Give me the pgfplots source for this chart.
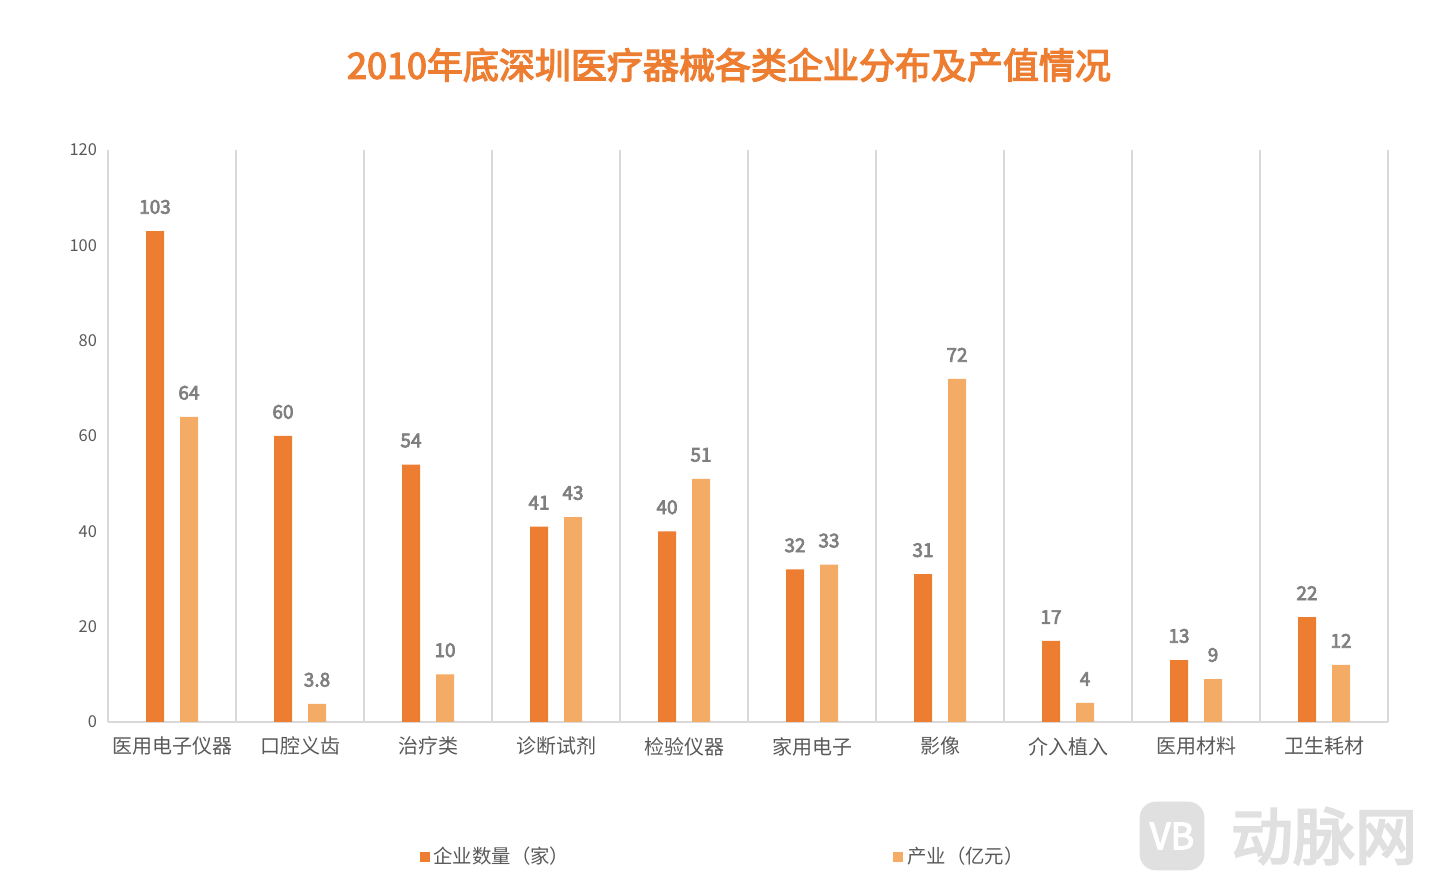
\documentclass[border=0pt]{standalone}
\usepackage{fontspec}
\setmainfont{Noto Sans CJK SC}
\newfontfamily\bcjk{Noto Sans CJK SC}[FakeBold=3.5]
\usepackage{pgfplots}
\pgfplotsset{compat=1.18}
\definecolor{cA}{HTML}{ED7D31}
\definecolor{cB}{HTML}{F4AB66}
\definecolor{txt}{HTML}{595959}
\definecolor{lbl}{HTML}{7F7F7F}
\definecolor{grid}{HTML}{D9D9D9}
\begin{document}
\begin{tikzpicture}
\begin{axis}[
  at={(54pt,83pt)}, anchor=south west,
  scale only axis, width=640pt, height=286pt,
  xmin=-0.5, xmax=9.5, ymin=0, ymax=120,
  ybar=8pt, bar width=9pt,
  xtick={0,...,9},
  xticklabels={医用电子仪器,口腔义齿,治疗类,诊断试剂,检验仪器,家用电子,影像,介入植入,医用材料,卫生耗材},
  ytick={0,20,...,120},
  minor xtick={0.5,1.5,...,9.5},
  xminorgrids, minor grid style={draw=grid, line width=0.6pt},
  major tick length=0pt, minor tick length=0pt,
  axis lines*=left,
  axis line style={draw=grid, line width=0.6pt, -},
  /pgf/number format/assume math mode=true,
  ticklabel style={text=txt},
  yticklabel style={font=\fontsize{8.2}{9}\selectfont, xshift=-2pt},
  xticklabel style={font=\fontsize{10}{11}\selectfont, yshift=-4pt},
  nodes near coords,
  nodes near coords style={font=\fontsize{9.5}{10}\selectfont\bcjk, text=lbl, yshift=5pt},
  legend style={at={(0.481,-0.236)}, anchor=center, draw=none, fill=none,
    font=\fontsize{9.7}{10}\selectfont, text=txt, legend columns=2,
    /tikz/every even column/.append style={column sep=160pt}},
  legend image code/.code={\fill[#1] (0pt,-2.5pt) rectangle (5pt,2.5pt);},
]
\addplot[fill=cA, draw=none] coordinates {(0,103) (1,60) (2,54) (3,41) (4,40) (5,32) (6,31) (7,17) (8,13) (9,22)};
\addplot[fill=cB, draw=none] coordinates {(0,64) (1,3.8) (2,10) (3,43) (4,51) (5,33) (6,72) (7,4) (8,9) (9,12)};
\legend{企业数量（家）,产业（亿元）}
\end{axis}
\node[text=cA, font=\fontsize{18}{19}\selectfont\bcjk] at (364.5pt,411.5pt) {2010年底深圳医疗器械各类企业分布及产值情况};
\node[text=black!12, font=\fontsize{31}{32}\selectfont\bcjk] at (662pt,26pt) {动脉网};
\node[draw=black!12, fill=black!12, rounded corners=8pt, minimum width=32pt, minimum height=34pt, text=white, font=\fontsize{18}{18}\selectfont\bcjk] at (586pt,26pt) {VB};
\pgfresetboundingbox
\path[use as bounding box] (0,0) rectangle (720pt,444pt);
\end{tikzpicture}
\end{document}
